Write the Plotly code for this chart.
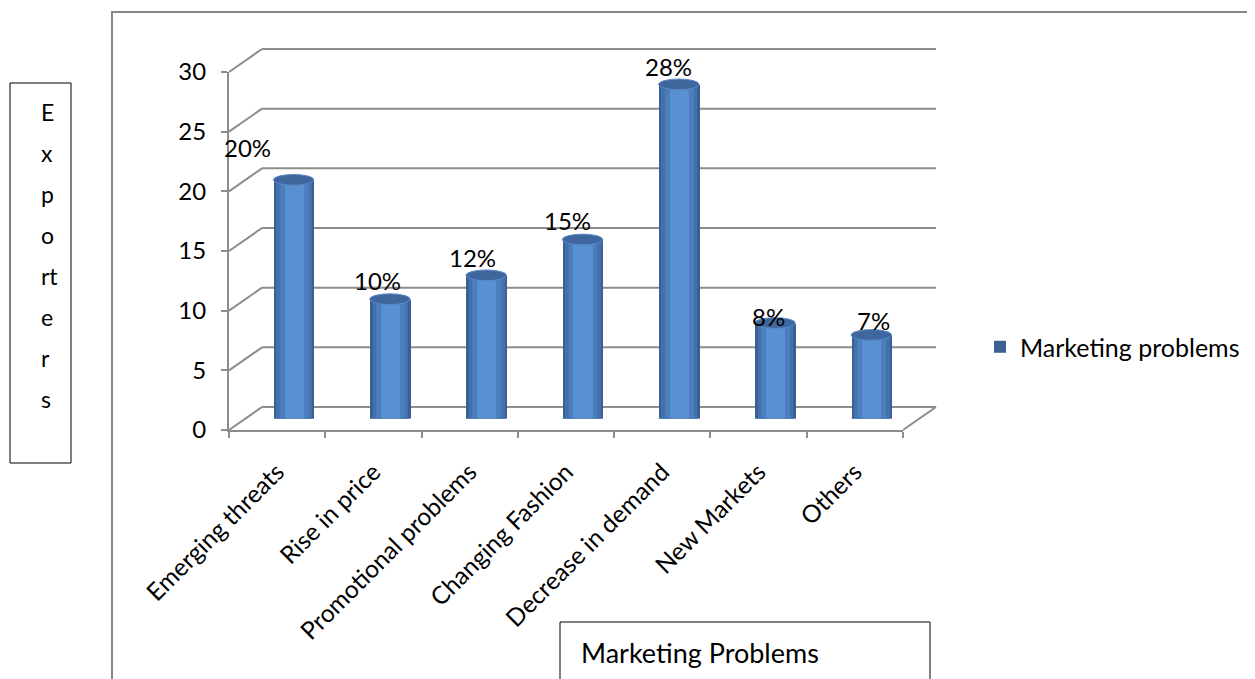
import plotly.graph_objects as go

categories = ["Emerging threats", "Rise in price", "Promotional problems",
              "Changing Fashion", "Decrease in demand", "New Markets", "Others"]
values = [20, 10, 12, 15, 28, 8, 7]
series_name = "Marketing problems"
y_ticks = [0, 5, 10, 15, 20, 25, 30]
y_title_letters = ["E", "x", "p", "o", "rt", "e", "r", "s"]
x_title = "Marketing Problems"

# data-label nudges (pixels), style only
label_dx = [-46, -12, -14, -15, -10, -7, 2]
label_dy = [10, -3, -4, -3, -4, -15, -8]

W, H = 1255, 679
OFF = 8  # page body margin
FONT = "Lato, 'Open Sans', sans-serif"
FS = 24
GRID = "#8C8C8C"

def px(x):
    return (x - OFF) / W

def py(y):
    return 1 - (y - OFF) / H

# 3D-ish geometry (pixels, in page coordinates)
FX0, FX1, FY0, FY30 = 229, 903, 430, 72      # front plane
DX, DY = 33, 23                              # depth offset to back wall
MX, MY = DX / 2, DY / 2                      # mid plane (bars)
YMAX = 30

def fy(v):
    return FY0 - (FY0 - FY30) * v / YMAX

n = len(categories)
idx = list(range(n))

fig = go.Figure()

# cylinder body (layered for shading)
layers = [(0.42, "#3A6096"), (0.37, "#4271AC"), (0.30, "#4C7EBE"), (0.20, "#5890D2")]
for k, (w, col) in enumerate(layers):
    fig.add_trace(go.Bar(
        x=idx, y=values, width=w, marker=dict(color=col, line=dict(width=0)),
        name=series_name, showlegend=(k == 0), hoverinfo="skip",
        xaxis="x", yaxis="y", legendgroup="m"))

# invisible trace to establish the front categorical axis
fig.add_trace(go.Scatter(x=categories, y=values, xaxis="x2", yaxis="y2",
                         mode="markers", marker=dict(opacity=0, size=1),
                         showlegend=False, hoverinfo="skip"))

shapes = []
# back wall gridlines + side connectors
for v in y_ticks:
    shapes.append(dict(type="line", xref="paper", yref="paper", layer="below",
                       x0=px(FX0 + DX), x1=px(FX1 + DX), y0=py(fy(v) - DY), y1=py(fy(v) - DY),
                       line=dict(color=GRID, width=2)))
    shapes.append(dict(type="line", xref="paper", yref="paper", layer="below",
                       x0=px(FX0), x1=px(FX0 + DX), y0=py(fy(v)), y1=py(fy(v) - DY),
                       line=dict(color=GRID, width=2)))
# floor right edge
shapes.append(dict(type="line", xref="paper", yref="paper", layer="below",
                   x0=px(FX1), x1=px(FX1 + DX), y0=py(fy(0)), y1=py(fy(0) - DY),
                   line=dict(color=GRID, width=2)))

# cylinder bottoms and tops
hw = layers[0][0] / 2
for i, v in zip(idx, values):
    shapes.append(dict(type="circle", xref="x", yref="y", layer="below",
                       x0=i - hw, x1=i + hw, y0=-0.4, y1=0.4,
                       fillcolor="#4575B2", line=dict(width=0)))
    shapes.append(dict(type="circle", xref="x", yref="y", layer="above",
                       x0=i - hw, x1=i + hw, y0=v - 0.45, y1=v + 0.45,
                       fillcolor="#3F679E", line=dict(color="#5A88C4", width=1)))

# chart border
shapes.append(dict(type="rect", xref="paper", yref="paper",
                   x0=px(112), x1=1.02, y0=-0.02, y1=py(12),
                   line=dict(color="#868686", width=2)))
# y title box
shapes.append(dict(type="rect", xref="paper", yref="paper",
                   x0=px(10), x1=px(71), y0=py(463), y1=py(83),
                   line=dict(color="#000000", width=1)))
# x title box
shapes.append(dict(type="rect", xref="paper", yref="paper",
                   x0=px(560), x1=px(930), y0=-0.02, y1=py(622),
                   line=dict(color="#000000", width=1)))

annotations = []
for i, v, ddx, ddy in zip(idx, values, label_dx, label_dy):
    annotations.append(dict(x=i, y=v, xref="x", yref="y", text=f"{v}%",
                            showarrow=False, yshift=22 + ddy, xshift=ddx,
                            yanchor="middle",
                            font=dict(family=FONT, size=FS, color="#000000")))
for k, letter in enumerate(y_title_letters):
    annotations.append(dict(x=px(39), y=py(128 + 41 * k), xref="paper", yref="paper",
                            text=letter, showarrow=False, yanchor="bottom",
                            font=dict(family=FONT, size=FS - 1, color="#000000")))
annotations.append(dict(x=px(579), y=py(652), xref="paper", yref="paper",
                        text=x_title, showarrow=False, xanchor="left", yanchor="middle",
                        font=dict(family=FONT, size=27, color="#000000")))

fig.update_layout(
    width=W, height=H, autosize=False,
    margin=dict(l=0, r=0, t=0, b=0, autoexpand=False),
    paper_bgcolor="white", plot_bgcolor="rgba(0,0,0,0)",
    barmode="overlay", bargap=0,
    font=dict(family=FONT, size=FS, color="#000000"),
    xaxis=dict(domain=[px(FX0 + MX), px(FX1 + MX)], range=[-0.5, n - 0.5],
               visible=False, anchor="y", automargin=False),
    yaxis=dict(domain=[py(fy(0) - MY), py(fy(YMAX) - MY)], range=[0, YMAX],
               visible=False, anchor="x", automargin=False),
    xaxis2=dict(domain=[px(FX0), px(FX1)], anchor="y2", type="category",
                categoryorder="array", categoryarray=categories,
                range=[-0.5, n - 0.5], tickson="boundaries", ticks="outside",
                ticklen=6, tickcolor=GRID, tickwidth=2, tickangle=-45,
                showline=True, linecolor=GRID, linewidth=2, showgrid=False,
                automargin=False, ticklabelstandoff=16,
                tickfont=dict(family=FONT, size=FS + 0.5, color="#000000")),
    yaxis2=dict(domain=[py(fy(0)), py(fy(YMAX))], anchor="x2", range=[0, YMAX],
                tickvals=y_ticks, ticks="outside", ticklen=6, tickcolor=GRID,
                tickwidth=2, showline=True, linecolor=GRID, linewidth=2,
                showgrid=False, zeroline=False, ticklabelstandoff=10,
                automargin=False,
                tickfont=dict(family=FONT, size=FS, color="#000000")),
    legend=dict(x=px(980), y=py(347), xanchor="left", yanchor="middle",
                bgcolor="rgba(0,0,0,0)", font=dict(family=FONT, size=FS + 1),
                itemwidth=30),
    shapes=shapes, annotations=annotations,
)

fig.write_html("out.html")
